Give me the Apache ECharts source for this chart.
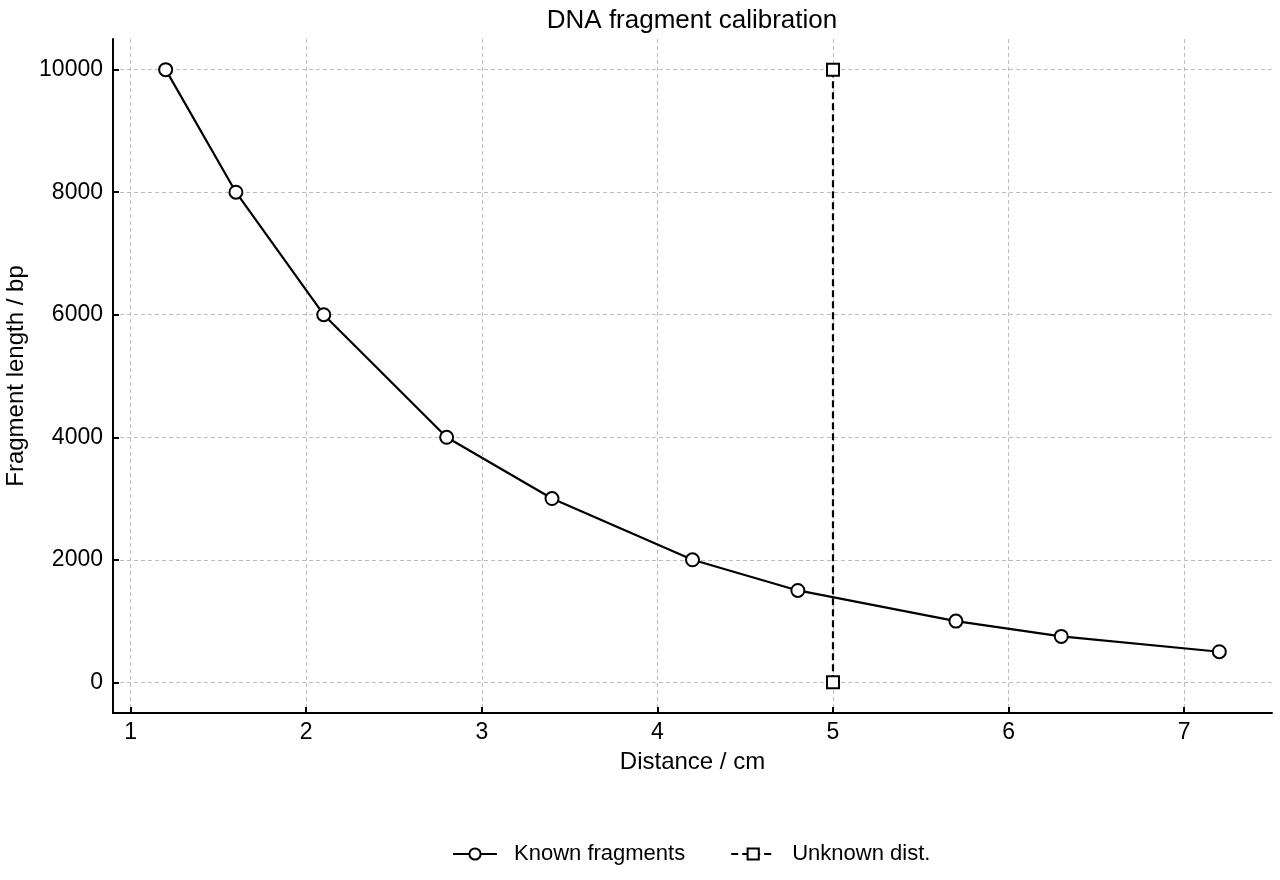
<!DOCTYPE html>
<html>
<head>
<meta charset="utf-8">
<script src="https://cdn.jsdelivr.net/npm/echarts@6/dist/echarts.min.js"></script>
<style>
html, body { margin: 0; padding: 0; background: #fff; }
#main { width: 1280px; height: 880px; }
</style>
</head>
<body>
<div id="main"></div>
<script>
// known calibration points
var knownDist = [1.2, 1.6, 2.1, 2.8, 3.4, 4.2, 4.8, 5.7, 6.3, 7.2];
var knownLen = [10000, 8000, 6000, 4000, 3000, 2000, 1500, 1000, 750, 500];
// unknown sample guide line
var unknownDist = [5, 5];
var unknownLen = [0, 10000];
// tick positions
var xTicks = [1, 2, 3, 4, 5, 6, 7];
var yTicks = [0, 2000, 4000, 6000, 8000, 10000];

function pairs(xs, ys) {
    return xs.map(function (x, i) { return [x, ys[i]]; });
}

var FONT = '"Liberation Sans", Arial, sans-serif';
var GRIDLINE = { color: '#bdbdbd', type: [4, 3], width: 1 };
var myChart = echarts.init(document.getElementById('main'));

var option = {
    animation: false,
    title: {
        text: 'DNA fragment calibration',
        left: 687,
        textAlign: 'center',
        top: 3,
        textStyle: { fontFamily: FONT, fontSize: 26, fontWeight: 'normal', color: '#000' }
    },
    legend: {
        bottom: 10,
        left: 447,
        itemWidth: 44,
        itemHeight: 14,
        itemGap: 45,
        textStyle: { fontFamily: FONT, fontSize: 22, color: '#000', padding: [0, 0, 0, 12] },
        data: ['Known fragments', 'Unknown dist.']
    },
    grid: { left: 113, right: 8, top: 39, bottom: 167, outerBoundsMode: 'none', containLabel: false },
    xAxis: {
        type: 'value',
        min: 0.9, max: 7.5,
        name: 'Distance / cm',
        nameLocation: 'middle',
        nameGap: 37,
        nameTextStyle: { fontFamily: FONT, fontSize: 24, color: '#000' },
        axisLine: { onZero: false, lineStyle: { color: '#000', width: 2 } },
        axisTick: { inside: true, length: 6, customValues: xTicks, lineStyle: { color: '#000', width: 2 } },
        axisLabel: { fontFamily: FONT, fontSize: 23, color: '#000', margin: 8, customValues: xTicks },
        splitLine: { show: true, customValues: xTicks, lineStyle: GRIDLINE }
    },
    yAxis: {
        type: 'value',
        min: -500, max: 10500,
        name: 'Fragment length / bp',
        nameLocation: 'middle',
        nameGap: 85,
        nameTextStyle: { fontFamily: FONT, fontSize: 24, color: '#000' },
        axisLine: { show: true, onZero: false, lineStyle: { color: '#000', width: 2 } },
        axisTick: { show: true, inside: true, length: 6, customValues: yTicks, lineStyle: { color: '#000', width: 2 } },
        axisLabel: {
            fontFamily: FONT, fontSize: 23, color: '#000', margin: 10, customValues: yTicks,
            formatter: function (v) { return String(v); }
        },
        splitLine: { show: true, customValues: yTicks, lineStyle: GRIDLINE }
    },
    series: [
        {
            name: 'Known fragments',
            type: 'line',
            data: pairs(knownDist, knownLen),
            symbol: 'circle',
            symbolSize: 13,
            showAllSymbol: true,
            lineStyle: { color: '#000', width: 2.2 },
            itemStyle: { color: '#fff', borderColor: '#000', borderWidth: 2 },
            z: 3
        },
        {
            name: 'Unknown dist.',
            type: 'line',
            data: pairs(unknownDist, unknownLen),
            symbol: 'rect',
            symbolSize: 12,
            lineStyle: { color: '#000', width: 2.2, type: [7, 4] },
            itemStyle: { color: '#fff', borderColor: '#000', borderWidth: 2 },
            z: 4
        }
    ]
};

myChart.setOption(option);
</script>
</body>
</html>
